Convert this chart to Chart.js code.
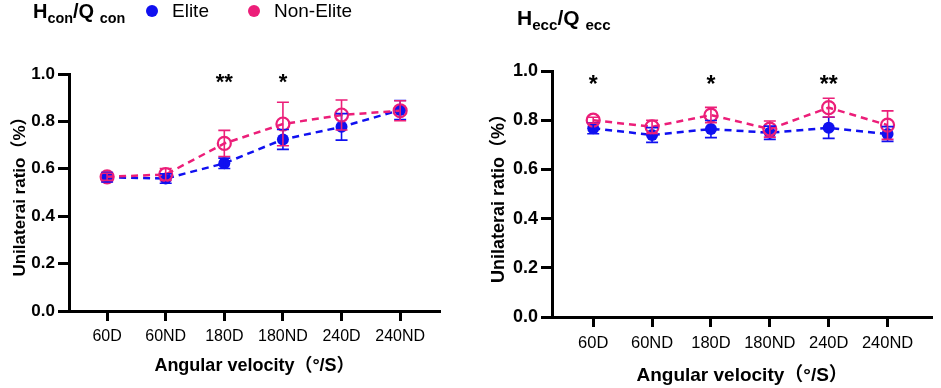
<!DOCTYPE html>
<html>
<head>
<meta charset="utf-8">
<script src="https://cdn.jsdelivr.net/npm/chart.js@4"></script>
<style>
  html, body { margin:0; padding:0; background:#fff; }
  body { width:941px; height:388px; position:relative; overflow:hidden; font-family:'Liberation Sans', Arial, sans-serif; }
  .box { position:absolute; top:0; }
  .ttl { position:absolute; font-weight:bold; color:#000; white-space:nowrap; }
  .ttl sub { font-size:0.72em; vertical-align:-0.35em; }
  .leg { position:absolute; top:0; font-size:19px; color:#000; white-space:nowrap; display:flex; align-items:center; }
  .dot { display:inline-block; width:12px; height:12px; border-radius:50%; margin-right:14px; }
</style>
</head>
<body>
<div class="box" style="left:0;width:470px;height:388px;"><canvas id="c1" width="470" height="388"></canvas></div>
<div class="box" style="left:470px;width:471px;height:388px;"><canvas id="c2" width="471" height="388"></canvas></div>
<div class="ttl" style="left:33px;top:0px;font-size:20px;">H<sub>con</sub>/Q <sub>con</sub></div>
<div class="ttl" style="left:517px;top:6px;font-size:21px;">H<sub>ecc</sub>/Q <sub>ecc</sub></div>
<div id="legend"></div>
<script>
// ---- data ----
const categories = ['60D', '60ND', '180D', '180ND', '240D', '240ND'];
const seriesNames = ['Elite', 'Non-Elite'];
const yTicks = [0.0, 0.2, 0.4, 0.6, 0.8, 1.0];

// Hcon/Qcon
const conElite = [0.564, 0.559, 0.623, 0.724, 0.777, 0.848];
const conEliteSD = [0.020, 0.020, 0.022, 0.042, 0.056, 0.040];
const conNonElite = [0.566, 0.576, 0.707, 0.789, 0.827, 0.845];
const conNonEliteSD = [0.015, 0.025, 0.055, 0.092, 0.063, 0.042];
const conStars = ['', '', '**', '*', '', ''];

// Hecc/Qecc
const eccElite = [0.767, 0.740, 0.764, 0.749, 0.769, 0.744];
const eccEliteSD = [0.022, 0.030, 0.035, 0.027, 0.043, 0.030];
const eccNonElite = [0.800, 0.773, 0.821, 0.764, 0.851, 0.780];
const eccNonEliteSD = [0.012, 0.027, 0.031, 0.033, 0.038, 0.058];
const eccStars = ['*', '', '*', '', '**', ''];

const BLUE = '#1010F0';
const PINK = '#EC1E79';
const FONT = "'Liberation Sans', 'Noto Sans CJK SC', Arial, sans-serif";

// legend (HTML)
const leg = document.getElementById('legend');
[[BLUE, 146], [PINK, 248]].forEach((c, i) => {
  const d = document.createElement('div');
  d.className = 'leg';
  d.style.left = c[1] + 'px';
  d.style.top = '0px';
  d.innerHTML = '<span class="dot" style="background:' + c[0] + '"></span>' + seriesNames[i];
  leg.appendChild(d);
});

const errorBars = {
  id: 'errorBars',
  afterDatasetsDraw(chart, args, opts) {
    const ctx = chart.ctx;
    const xs = chart.scales.x, ys = chart.scales.y;
    chart.data.datasets.slice().reverse().forEach(ds => {
      if (!ds.sd) return;
      ctx.save();
      ctx.strokeStyle = ds.borderColor;
      ctx.lineWidth = 1.6;
      ds.data.forEach((p, i) => {
        const x = xs.getPixelForValue(p.x);
        const y1 = ys.getPixelForValue(p.y - ds.sd[i]);
        const y2 = ys.getPixelForValue(p.y + ds.sd[i]);
        ctx.beginPath();
        ctx.moveTo(x, y1); ctx.lineTo(x, y2);
        ctx.moveTo(x - 6, y1); ctx.lineTo(x + 6, y1);
        ctx.moveTo(x - 6, y2); ctx.lineTo(x + 6, y2);
        ctx.stroke();
      });
      ctx.restore();
    });
    // significance stars
    const st = opts.stars || [];
    ctx.save();
    ctx.fillStyle = '#000';
    ctx.font = 'bold ' + opts.starSize + 'px ' + FONT;
    ctx.textAlign = 'center';
    ctx.textBaseline = 'middle';
    st.forEach((s, i) => {
      if (!s) return;
      ctx.fillText(s, xs.getPixelForValue(i), ys.getPixelForValue(opts.starY));
    });
    ctx.restore();
  }
};

function makeChart(id, elite, eliteSD, non, nonSD, stars, g) {
  const toPts = arr => arr.map((v, i) => ({ x: i, y: v }));
  return new Chart(document.getElementById(id), {
    type: 'line',
    data: {
      datasets: [
        {
          label: seriesNames[1], data: toPts(non), sd: nonSD, order: 0,
          borderColor: PINK, borderWidth: 2.5, borderDash: [7, 5],
          pointRadius: 6.5, pointBorderWidth: 2.2, pointBorderColor: PINK,
          pointBackgroundColor: 'rgba(255,255,255,0)', fill: false, tension: 0
        },
        {
          label: seriesNames[0], data: toPts(elite), sd: eliteSD, order: 1,
          borderColor: BLUE, borderWidth: 2.5, borderDash: [7, 5],
          pointRadius: 6, pointBorderWidth: 0, pointBackgroundColor: BLUE,
          fill: false, tension: 0
        }
      ]
    },
    options: {
      responsive: false,
      animation: false,
      events: [],
      layout: { padding: { top: g.top, right: g.right, left: 0, bottom: 0 } },
      plugins: {
        legend: { display: false },
        tooltip: { enabled: false },
        title: { display: false },
        errorBars: { stars: stars, starY: g.starY, starSize: g.starSize }
      },
      scales: {
        x: {
          type: 'linear', min: g.xmin, max: g.xmax,
          afterFit: s => { s.height = g.xh; },
          afterBuildTicks: s => { s.ticks = categories.map((c, i) => ({ value: i })); },
          ticks: {
            callback: v => categories[v], autoSkip: false, maxRotation: 0,
            color: '#000', padding: g.xpad,
            font: { family: FONT, size: g.xfs }
          },
          grid: { drawOnChartArea: false, drawTicks: true, tickLength: 10, tickWidth: 3, tickColor: '#000' },
          border: { display: true, color: '#000', width: 3 },
          title: {
            display: true, text: 'Angular velocity（°/S）', color: '#000',
            font: { family: FONT, size: g.tfs, weight: 'bold' },
            padding: { top: 0, bottom: g.xtpad }
          }
        },
        y: {
          min: 0, max: 1,
          afterFit: s => { s.width = g.yw; },
          afterBuildTicks: s => { s.ticks = yTicks.map(v => ({ value: v })); },
          ticks: {
            callback: v => v.toFixed(1), color: '#000', padding: 3,
            font: { family: FONT, size: g.yfs, weight: 'bold' }
          },
          grid: { drawOnChartArea: false, drawTicks: true, tickLength: 11, tickWidth: 3, tickColor: '#000' },
          border: { display: true, color: '#000', width: 3 },
          title: {
            display: true, text: 'Unilaterai ratio（%）', color: '#000',
            font: { family: FONT, size: g.tfs - 1, weight: 'bold' },
            padding: { top: g.ytpad, bottom: 0 }
          }
        }
      }
    },
    plugins: [errorBars]
  });
}

makeChart('c1', conElite, conEliteSD, conNonElite, conNonEliteSD, conStars, {
  top: 74, right: 30, xh: 77, yw: 69, xmin: -0.65, xmax: 5.68,
  xpad: 6, xfs: 16, tfs: 18, yfs: 17, xtpad: 11, ytpad: 10, starY: 0.962, starSize: 22
});
makeChart('c2', eccElite, eccEliteSD, eccNonElite, eccNonEliteSD, eccStars, {
  top: 71, right: 1, xh: 71, yw: 82, xmin: -0.70, xmax: 5.76,
  xpad: 7, xfs: 16.5, tfs: 19, yfs: 18, xtpad: 1, ytpad: 18, starY: 0.939, starSize: 23
});
</script>
</body>
</html>
